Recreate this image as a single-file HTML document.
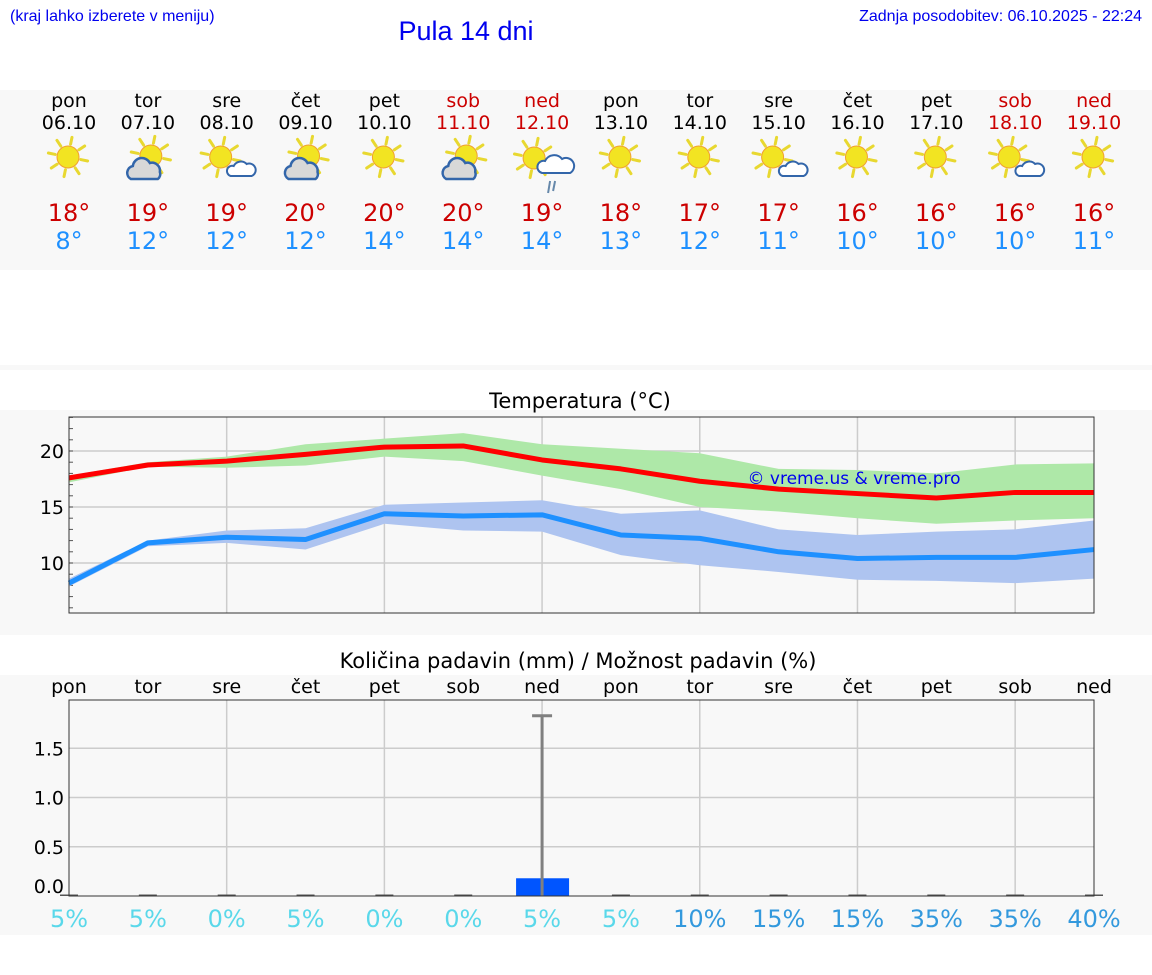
<!DOCTYPE html>
<html><head><meta charset="utf-8">
<style>
html,body{margin:0;padding:0;background:#fff;width:1152px;height:975px;overflow:hidden}
svg{display:block;font-family:"DejaVu Sans","Liberation Sans",sans-serif}
</style></head><body>
<svg id="s" width="1152" height="975" xmlns="http://www.w3.org/2000/svg">
<rect x="0" y="90" width="1152" height="180" fill="#f8f8f8"/>
<rect x="0" y="365" width="1152" height="5" fill="#f8f8f8"/>
<rect x="0" y="410" width="1152" height="225" fill="#f8f8f8"/>
<rect x="0" y="675" width="1152" height="260" fill="#f8f8f8"/>
<text x="10" y="21" font-family="Liberation Sans, sans-serif" font-size="16" fill="#0000ee">(kraj lahko izberete v meniju)</text>
<text x="466" y="40" text-anchor="middle" font-family="Liberation Sans, sans-serif" font-size="27" fill="#0000ee">Pula 14 dni</text>
<text x="1142" y="21" text-anchor="end" font-family="Liberation Sans, sans-serif" font-size="16" fill="#0000ee">Zadnja posodobitev: 06.10.2025 - 22:24</text>
<text x="580" y="408" text-anchor="middle" font-size="21" fill="#000">Temperatura (°C)</text>
<text x="578" y="668" text-anchor="middle" font-size="21" fill="#000">Količina padavin (mm) / Možnost padavin (%)</text>
<g id="g"></g>
</svg>
<script>
const days=["pon","tor","sre","čet","pet","sob","ned","pon","tor","sre","čet","pet","sob","ned"];
const dates=["06.10","07.10","08.10","09.10","10.10","11.10","12.10","13.10","14.10","15.10","16.10","17.10","18.10","19.10"];
const icons=["sun","cloudy","suncloud","cloudy","sun","cloudy","rain","sun","sun","suncloud","sun","sun","suncloud","sun"];
const hiLabels=[18,19,19,20,20,20,19,18,17,17,16,16,16,16];
const loLabels=[8,12,12,12,14,14,14,13,12,11,10,10,10,11];
const tMax=[17.6,18.75,19.1,19.7,20.35,20.45,19.2,18.4,17.3,16.6,16.2,15.8,16.3,16.3];
const tMaxHi=[17.8,19.0,19.5,20.6,21.1,21.6,20.6,20.2,19.8,18.4,18.3,18.0,18.8,18.9];
const tMaxLo=[17.2,18.6,18.5,18.7,19.5,19.1,17.8,16.6,15.0,14.6,14.0,13.5,13.8,14.0];
const tMin=[8.2,11.8,12.3,12.1,14.4,14.2,14.3,12.5,12.2,11.0,10.4,10.5,10.5,11.2];
const tMinHi=[8.6,12.0,12.9,13.1,15.2,15.4,15.6,14.4,14.7,13.0,12.5,12.8,13.0,13.8];
const tMinLo=[7.9,11.5,11.8,11.2,13.5,12.9,12.8,10.7,9.8,9.2,8.5,8.4,8.2,8.6];
const tTicks=[10,15,20];
const precip=[0,0,0,0,0,0,0.18,0,0,0,0,0,0,0];
const precipMax=[0,0,0,0,0,0,1.83,0,0,0,0,0,0,0];
const pTicks=[0.0,0.5,1.0,1.5];
const chance=[5,5,0,5,0,0,5,5,10,15,15,35,35,40];

const NS="http://www.w3.org/2000/svg",G=document.getElementById('g');
function el(t,a,p){const e=document.createElementNS(NS,t);for(const k in a)e.setAttribute(k,a[k]);(p||G).appendChild(e);return e;}
const X0=69,X1=1094;
const xs=i=>X0+i*(X1-X0)/13;
const ty=v=>451-(v-20)*11.2;
const py=v=>896-v*98.5;
const weekend=i=>days[i]==="sob"||days[i]==="ned";

days.forEach((d,i)=>{
  const x=xs(i),c=weekend(i)?"#cc0000":"#000";
  let t=el('text',{x:x,y:107,'text-anchor':'middle','font-size':19,fill:c});t.textContent=d;
  
  t=el('text',{x:x,y:129,'text-anchor':'middle','font-size':19,fill:c});t.textContent=dates[i];
  
  t=el('text',{x:x,y:221,'text-anchor':'middle','font-size':24,fill:"#cc0000"});t.textContent=hiLabels[i]+"°";
  
  t=el('text',{x:x,y:249,'text-anchor':'middle','font-size':24,fill:"#1e90ff"});t.textContent=loLabels[i]+"°";
  
  const g=el('g',{});
  
  
  const ic=icons[i];
  let sx=x-1,sy=157;
  if(ic!=="sun"){sx=x+3;sy=156;}
  if(ic==="rain"){sx=x-8;sy=158;}
  if(ic==="suncloud"){sx=x-6;sy=157;}
  for(let k=0;k<8;k++){const a=k*Math.PI/4+0.2;el('line',{x1:sx+Math.cos(a)*13,y1:sy+Math.sin(a)*13,x2:sx+Math.cos(a)*20,y2:sy+Math.sin(a)*20,stroke:"#e8d830","stroke-width":3,"stroke-linecap":"round"},g);}
  el('circle',{cx:sx,cy:sy,r:11,fill:"#f2e422",stroke:"#f0a030","stroke-width":1},g);
  if(ic==="cloudy"){
    el('path',{d:`M${x-17} ${179} a7 7 0 0 1 2-13 a9 9 0 0 1 17-3 a8 8 0 0 1 10 9 a6 6 0 0 1 -2 7 z`,fill:"#d8d8d8",stroke:"#3366aa","stroke-width":2.5},g);
  } else if(ic==="suncloud"){
    el('path',{d:`M${x+4} ${176} a5 5 0 0 1 3-10 a8 8 0 0 1 13-2 a6 6 0 0 1 5 12 z`,fill:"#fff",stroke:"#3366aa","stroke-width":2},g);
  } else if(ic==="rain"){
    el('path',{d:`M${x} ${173} a6 6 0 0 1 3-12 a10 10 0 0 1 17-2 a7 7 0 0 1 8 14 z`,fill:"#fff",stroke:"#3366aa","stroke-width":2},g);
    el('line',{x1:x+8,y1:181,x2:x+6,y2:193,stroke:"#6688aa","stroke-width":2},g);
    el('line',{x1:x+13,y1:181,x2:x+11,y2:191,stroke:"#6688aa","stroke-width":2},g);
  }
});

const TT=417,TB=613;
el('rect',{x:X0,y:TT,width:X1-X0,height:TB-TT,fill:"#f8f8f8"});
tTicks.forEach(v=>{const l=el('line',{x1:X0,x2:X1,y1:ty(v),y2:ty(v),stroke:"#ccc","stroke-width":1.5});
  
  const t=el('text',{x:X0-5,y:ty(v)+7,'text-anchor':'end','font-size':19,fill:"#000"});t.textContent=v;
  });
for(let v=6;v<=23;v++){el('line',{x1:X0,x2:X0+4,y1:ty(v),y2:ty(v),stroke:"#555","stroke-width":1});}
for(let i=2;i<13;i+=2){el('line',{x1:xs(i),x2:xs(i),y1:TT,y2:TB,stroke:"#ccc","stroke-width":1.5});}
function band(hi,lo,fill,name){const pts=hi.map((v,i)=>xs(i)+","+ty(v)).concat(lo.map((v,i)=>xs(i)+","+ty(v)).reverse());
  const p=el('polygon',{points:pts.join(" "),fill:fill});}
band(tMaxHi,tMaxLo,"#aee8a8","max-temp-range");
band(tMinHi,tMinLo,"#aec4f0","min-temp-range");
function line(a,c,name){const p=el('polyline',{points:a.map((v,i)=>xs(i)+","+ty(v)).join(" "),fill:"none",stroke:c,"stroke-width":5,"stroke-linejoin":"round"});
  }
line(tMax,"#ff0000","max-temp-line");
line(tMin,"#1e90ff","min-temp-line");
el('rect',{x:X0,y:TT,width:X1-X0,height:TB-TT,fill:"none",stroke:"#333","stroke-width":1});
let wm=el('text',{x:854,y:484,'text-anchor':'middle','font-size':17,fill:"#0000ee"});wm.textContent="© vreme.us & vreme.pro";


const PT=700,PB=896;
days.forEach((d,i)=>{const t=el('text',{x:xs(i),y:693,'text-anchor':'middle','font-size':19,fill:"#000"});t.textContent=d;
  });
pTicks.forEach(v=>{if(v>0){el('line',{x1:X0,x2:X1,y1:py(v),y2:py(v),stroke:"#ccc","stroke-width":1.5});}
  const t=el('text',{x:X0-5,y:(v===0?py(v)-3:py(v)+7),'text-anchor':'end','font-size':19,fill:"#000"});t.textContent=v.toFixed(1);
  });
for(let i=2;i<13;i+=2){el('line',{x1:xs(i),x2:xs(i),y1:PT,y2:PB,stroke:"#ccc","stroke-width":1.5});}
precip.forEach((v,i)=>{
  const h=Math.max(py(0)-py(v),1.5);
  const b=el('rect',{x:xs(i)-26,y:py(0)-h,width:53,height:h,fill:v>0?"#0055ff":"#555"});
  if(v===0){b.setAttribute('x',xs(i)-9);b.setAttribute('width',18);}
  
  if(precipMax[i]>0){
    const e=el('line',{x1:xs(i),x2:xs(i),y1:py(0),y2:py(precipMax[i]),stroke:"#808080","stroke-width":3});
    
    el('line',{x1:xs(i)-10,x2:xs(i)+10,y1:py(precipMax[i]),y2:py(precipMax[i]),stroke:"#808080","stroke-width":3});
  }
  const t=el('text',{x:xs(i),y:927,'text-anchor':'middle','font-size':24,fill:chance[i]>=10?"#3399dd":"#5ad8ea"});t.textContent=chance[i]+"%";
  
});
el('rect',{x:X0,y:PT,width:X1-X0,height:PB-PT,fill:"none",stroke:"#333","stroke-width":1});
</script>
</body></html>
